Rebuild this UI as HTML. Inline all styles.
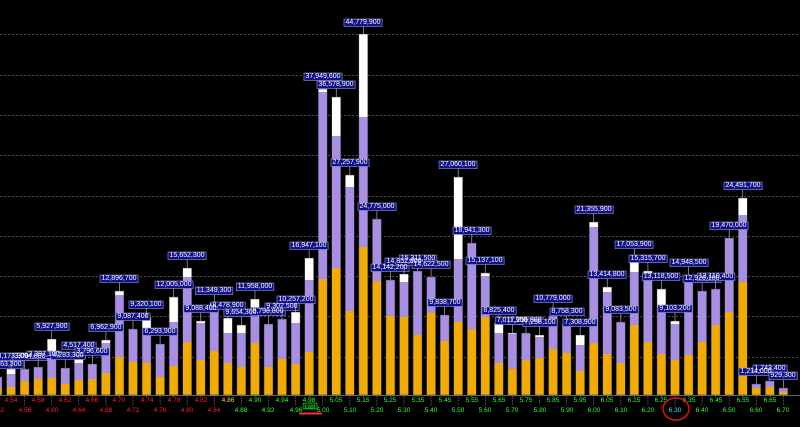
<!DOCTYPE html>
<html><head><meta charset="utf-8"><style>
html,body{margin:0;padding:0;background:#000;}
svg{display:block;}
text{font-family:"Liberation Sans",sans-serif;}
.lb{font-size:7px;fill:#fff;text-anchor:middle;}
.ax{font-size:6.5px;text-anchor:middle;}
</style></head><body>
<svg id="s" width="800" height="427" viewBox="0 0 800 427" xmlns="http://www.w3.org/2000/svg">
<rect width="800" height="427" fill="#000"/>
<g id="grid" stroke="#4a4a4a" stroke-width="1" stroke-dasharray="2,2">
<line x1="0" y1="34.5" x2="800" y2="34.5"/><line x1="0" y1="75.5" x2="800" y2="75.5"/>
<line x1="0" y1="115.5" x2="800" y2="115.5"/><line x1="0" y1="155.5" x2="800" y2="155.5"/>
<line x1="0" y1="196.5" x2="800" y2="196.5"/><line x1="0" y1="236.5" x2="800" y2="236.5"/>
<line x1="0" y1="276.5" x2="800" y2="276.5"/><line x1="0" y1="316.5" x2="800" y2="316.5"/>
<line x1="0" y1="357.5" x2="800" y2="357.5"/>
</g>
<g id="bars"></g>
<line x1="0" y1="395.5" x2="800" y2="395.5" stroke="#666" stroke-width="1"/>
<g id="ticks"></g>
<g id="boxes"></g>
<g id="labels">
<text class="lb" x="6" y="366">1,963,300</text>
<text class="lb" x="13" y="358">3,173,300</text>
<text class="lb" x="30" y="358">3,094,800</text>
<text class="lb" x="44" y="356">3,397,100</text>
<text class="lb" x="52" y="328">5,927,900</text>
<text class="lb" x="68" y="357">4,283,300</text>
<text class="lb" x="79" y="347">4,517,400</text>
<text class="lb" x="92" y="353">3,796,600</text>
<text class="lb" x="106" y="329">6,962,900</text>
<text class="lb" x="119" y="280">12,896,700</text>
<text class="lb" x="133" y="318">9,087,400</text>
<text class="lb" x="146" y="306">9,320,100</text>
<text class="lb" x="160" y="333">6,293,900</text>
<text class="lb" x="174" y="286">12,005,000</text>
<text class="lb" x="187" y="257">15,652,300</text>
<text class="lb" x="201" y="310">9,088,400</text>
<text class="lb" x="214" y="292">11,349,300</text>
<text class="lb" x="228" y="307">8,478,900</text>
<text class="lb" x="241" y="314">9,654,300</text>
<text class="lb" x="255" y="288">11,958,000</text>
<text class="lb" x="268" y="313">8,798,800</text>
<text class="lb" x="282" y="308">9,302,500</text>
<text class="lb" x="296" y="301">10,257,200</text>
<text class="lb" x="309" y="247">16,947,100</text>
<text class="lb" x="323" y="78">37,949,600</text>
<text class="lb" x="336" y="86">36,578,900</text>
<text class="lb" x="350" y="164">27,257,900</text>
<text class="lb" x="363" y="24">44,779,900</text>
<text class="lb" x="377" y="208">24,775,000</text>
<text class="lb" x="390" y="269">14,142,200</text>
<text class="lb" x="404" y="263">14,852,800</text>
<text class="lb" x="418" y="260">15,311,500</text>
<text class="lb" x="431" y="266">14,622,500</text>
<text class="lb" x="445" y="304">9,838,700</text>
<text class="lb" x="458" y="166">27,060,100</text>
<text class="lb" x="472" y="232">18,941,300</text>
<text class="lb" x="485" y="262">15,137,100</text>
<text class="lb" x="499" y="312">8,825,400</text>
<text class="lb" x="512" y="322">7,011,900</text>
<text class="lb" x="526" y="322">7,256,800</text>
<text class="lb" x="540" y="324">7,258,100</text>
<text class="lb" x="553" y="300">10,779,000</text>
<text class="lb" x="567" y="313">8,758,300</text>
<text class="lb" x="580" y="324">7,308,900</text>
<text class="lb" x="594" y="211">21,355,900</text>
<text class="lb" x="607" y="276">13,414,800</text>
<text class="lb" x="621" y="311">9,083,500</text>
<text class="lb" x="634" y="246">17,053,900</text>
<text class="lb" x="648" y="260">15,315,700</text>
<text class="lb" x="661" y="278">13,118,500</text>
<text class="lb" x="675" y="310">9,103,200</text>
<text class="lb" x="689" y="264">14,948,500</text>
<text class="lb" x="702" y="280">12,926,100</text>
<text class="lb" x="716" y="278">13,110,400</text>
<text class="lb" x="729" y="227">19,470,000</text>
<text class="lb" x="743" y="187">24,491,700</text>
<text class="lb" x="756" y="373">1,214,000</text>
<text class="lb" x="770" y="370">1,743,400</text>
<text class="lb" x="783" y="377">929,300</text>
</g>
<g id="axis">
<text class="ax" x="-2" y="412" fill="#ff2020">4.52</text>
<text class="ax" x="11" y="402" fill="#ff2020">4.54</text>
<text class="ax" x="25" y="412" fill="#ff2020">4.56</text>
<text class="ax" x="38" y="402" fill="#ff2020">4.58</text>
<text class="ax" x="52" y="412" fill="#ff2020">4.60</text>
<text class="ax" x="65" y="402" fill="#ff2020">4.62</text>
<text class="ax" x="79" y="412" fill="#ff2020">4.64</text>
<text class="ax" x="92" y="402" fill="#ff2020">4.66</text>
<text class="ax" x="106" y="412" fill="#ff2020">4.68</text>
<text class="ax" x="119" y="402" fill="#ff2020">4.70</text>
<text class="ax" x="133" y="412" fill="#ff2020">4.72</text>
<text class="ax" x="147" y="402" fill="#ff2020">4.74</text>
<text class="ax" x="160" y="412" fill="#ff2020">4.76</text>
<text class="ax" x="174" y="402" fill="#ff2020">4.78</text>
<text class="ax" x="187" y="412" fill="#ff2020">4.80</text>
<text class="ax" x="201" y="402" fill="#ff2020">4.82</text>
<text class="ax" x="214" y="412" fill="#ff2020">4.84</text>
<text class="ax" x="228" y="402" fill="#e8e020">4.86</text>
<text class="ax" x="241" y="412" fill="#30ff30">4.88</text>
<text class="ax" x="255" y="402" fill="#30ff30">4.90</text>
<text class="ax" x="268" y="412" fill="#30ff30">4.92</text>
<text class="ax" x="282" y="402" fill="#30ff30">4.94</text>
<text class="ax" x="296" y="412" fill="#30ff30">4.96</text>
<text class="ax" x="309" y="402" fill="#30ff30">4.98</text>
<text class="ax" x="323" y="412" fill="#30ff30">5.00</text>
<text class="ax" x="336" y="402" fill="#30ff30">5.05</text>
<text class="ax" x="350" y="412" fill="#30ff30">5.10</text>
<text class="ax" x="363" y="402" fill="#30ff30">5.15</text>
<text class="ax" x="377" y="412" fill="#30ff30">5.20</text>
<text class="ax" x="390" y="402" fill="#30ff30">5.25</text>
<text class="ax" x="404" y="412" fill="#30ff30">5.30</text>
<text class="ax" x="418" y="402" fill="#30ff30">5.35</text>
<text class="ax" x="431" y="412" fill="#30ff30">5.40</text>
<text class="ax" x="445" y="402" fill="#30ff30">5.45</text>
<text class="ax" x="458" y="412" fill="#30ff30">5.50</text>
<text class="ax" x="472" y="402" fill="#30ff30">5.55</text>
<text class="ax" x="485" y="412" fill="#30ff30">5.60</text>
<text class="ax" x="499" y="402" fill="#30ff30">5.65</text>
<text class="ax" x="512" y="412" fill="#30ff30">5.70</text>
<text class="ax" x="526" y="402" fill="#30ff30">5.75</text>
<text class="ax" x="540" y="412" fill="#30ff30">5.80</text>
<text class="ax" x="553" y="402" fill="#30ff30">5.85</text>
<text class="ax" x="567" y="412" fill="#30ff30">5.90</text>
<text class="ax" x="580" y="402" fill="#30ff30">5.95</text>
<text class="ax" x="594" y="412" fill="#30ff30">6.00</text>
<text class="ax" x="607" y="402" fill="#30ff30">6.05</text>
<text class="ax" x="621" y="412" fill="#30ff30">6.10</text>
<text class="ax" x="634" y="402" fill="#30ff30">6.15</text>
<text class="ax" x="648" y="412" fill="#30ff30">6.20</text>
<text class="ax" x="661" y="402" fill="#30ff30">6.25</text>
<text class="ax" x="675" y="412" fill="#40e0ff">6.30</text>
<text class="ax" x="689" y="402" fill="#30ff30">6.35</text>
<text class="ax" x="702" y="412" fill="#30ff30">6.40</text>
<text class="ax" x="716" y="402" fill="#30ff30">6.45</text>
<text class="ax" x="729" y="412" fill="#30ff30">6.50</text>
<text class="ax" x="743" y="402" fill="#30ff30">6.55</text>
<text class="ax" x="756" y="412" fill="#30ff30">6.60</text>
<text class="ax" x="770" y="402" fill="#30ff30">6.65</text>
<text class="ax" x="783" y="412" fill="#30ff30">6.70</text>
</g>
<rect x="303" y="403" width="14" height="6" fill="#003300" stroke="#30ff30" stroke-width="0.5"/>
<text x="310" y="408.5" font-size="5.5" fill="#30ff30" text-anchor="middle">Last</text>
<line x1="299" y1="413.5" x2="322" y2="413.5" stroke="#ff3030" stroke-width="2"/>
<ellipse cx="676" cy="409" rx="13" ry="11" fill="none" stroke="#e01010" stroke-width="1.5"/>
</svg>
<script>
var D=[[377,377,388],[369,374,387],[369,369,381],[367,367,379],[339,359,378],[368,368,384],[358,363,380],[364,364,379],[340,343,373],[291,295,357],[329,329,362],[317,328,363],[344,344,377],[297,322,366],[268,277,342],[321,323,360],[303,306,351],[318,333,363],[325,333,367],[299,307,343],[324,324,367],[319,319,359],[312,323,364],[258,280,352],[89,92,279],[97,136,268],[175,187,311],[34,117,247],[219,219,281],[280,280,316],[274,282,317],[271,271,335],[277,277,313],[315,315,341],[177,259,322],[243,243,329],[273,276,317],[323,333,363],[333,334,369],[333,333,360],[335,337,358],[316,316,349],[324,324,353],[335,345,371],[222,227,343],[287,292,354],[322,322,363],[257,272,325],[271,273,342],[289,307,354],[321,324,360],[275,281,355],[291,291,342],[289,289,325],[238,238,312],[198,215,282],[384,384,388],[381,381,387],[388,388,392]];
var NS="http://www.w3.org/2000/svg";
function el(p,t,a){var e=document.createElementNS(NS,t);for(var k in a)e.setAttribute(k,a[k]);p.appendChild(e);return e;}
var B=document.getElementById("bars"),T=document.getElementById("ticks");
D.forEach(function(d,k){var c=-2.5+13.55*k,x=c-4.5;
 el(B,"rect",{x:x,y:d[2],width:9,height:395-d[2],fill:"#f2aa05"});
 el(B,"rect",{x:x,y:d[1],width:9,height:d[2]-d[1],fill:"#a88fe4"});
 if(d[1]>d[0])el(B,"rect",{x:x,y:d[0],width:9,height:d[1]-d[0],fill:"#ffffff"});
 el(B,"rect",{x:x,y:d[0],width:9,height:395-d[0],fill:"none",stroke:"#333",'stroke-width':0.5});
 el(T,"line",{x1:c,y1:396,x2:c,y2:(k%2?397:405),stroke:"#888",'stroke-width':0.7,'stroke-dasharray':"1,1"});
});
var L=document.querySelectorAll("#labels text"),G=document.getElementById("boxes");
L.forEach(function(t,k){var b=t.getBBox();var c=-2.5+13.55*k;
 el(G,"line",{x1:c,y1:b.y+b.height,x2:c,y2:D[k][0],stroke:"#aaa",'stroke-width':0.7});
 el(G,"rect",{x:b.x-1.5,y:b.y,width:b.width+3,height:b.height+0.5,fill:"#10108a",stroke:"#9a9ad0",'stroke-width':0.6});
});
</script>
</body></html>
